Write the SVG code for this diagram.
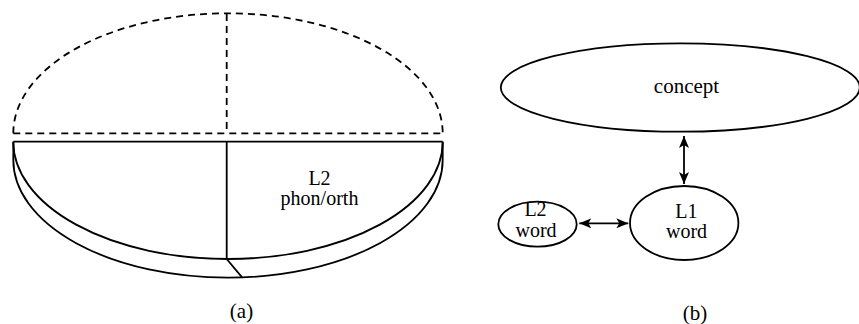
<svg xmlns="http://www.w3.org/2000/svg" width="859" height="324" viewBox="0 0 859 324">
<defs>
<style>
.s{fill:none;stroke:#000;stroke-width:1.8}
.d{fill:none;stroke:#000;stroke-width:1.8;stroke-dasharray:7 5}
.n{fill:#fff;stroke:#000;stroke-width:1.8}
text{font-family:"Liberation Serif","Times New Roman",serif;font-size:21px;fill:#000;text-anchor:middle}
.t{font-size:20px}
</style>
<marker id="ah" viewBox="0 0 12 10" refX="12" refY="5" markerWidth="12" markerHeight="10" markerUnits="userSpaceOnUse" orient="auto-start-reverse">
<path d="M0,0 L12,5 L0,10 L3,5 Z" fill="#000"/>
</marker>
</defs>
<rect width="859" height="324" fill="#fff"/>
<g id="panel-a">
<g id="dashed-top">
<path class="d" d="M13.3,133.3 A214.7,120 0 0 1 442.7,133.3"/>
<path class="d" d="M13.3,133.3 L442.7,133.3"/>
<path class="d" d="M226.7,14 L226.7,133.3"/>
</g>
<g id="solid-bottom">
<path class="s" d="M13.3,141.7 L442.7,141.7"/>
<path class="s" d="M13.3,141.7 A214.7,117.3 0 0 0 442.7,141.7"/>
<path class="s" d="M13.3,141.7 L13.3,160 A214.7,117.7 0 0 0 442.7,160 L442.7,141.7"/>
<path class="s" d="M226.7,141.7 L226.7,259 L242.3,277.7"/>
<text class="t" x="319.5" y="184.5">L2</text>
<text class="t" x="319.5" y="204.5">phon/orth</text>
</g>
<text x="241.5" y="318">(a)</text>
</g>
<g id="panel-b">
<g id="concept">
<ellipse class="n" cx="680.3" cy="87.5" rx="179.5" ry="44.2"/>
<text x="686.5" y="93.3">concept</text>
</g>
<g id="l1word">
<ellipse class="n" cx="684.2" cy="223" rx="54.2" ry="37"/>
<text class="t" x="686.3" y="217.5">L1</text>
<text class="t" x="686.5" y="237.5">word</text>
</g>
<g id="l2word">
<ellipse class="n" cx="537.5" cy="224.2" rx="39.2" ry="22.5"/>
<text class="t" x="535.5" y="215.5">L2</text>
<text class="t" x="536" y="236.5">word</text>
</g>
<g id="connectors">
<path class="s" d="M684,136 L684,184" marker-start="url(#ah)" marker-end="url(#ah)"/>
<path class="s" d="M579.3,223.3 L628.3,223.3" marker-start="url(#ah)" marker-end="url(#ah)"/>
</g>
<text x="695" y="320">(b)</text>
</g>
</svg>
